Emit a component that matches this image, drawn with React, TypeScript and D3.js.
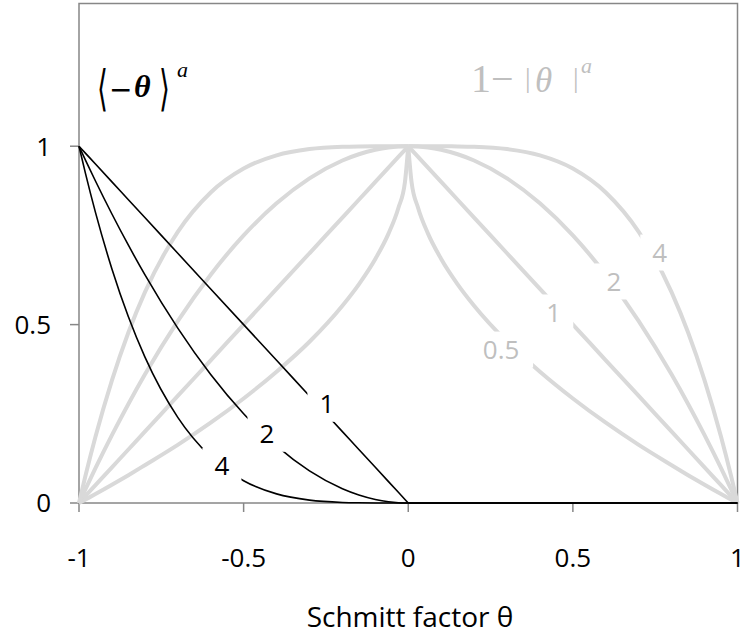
import React from "react";
import * as d3 from "d3";

// |theta| grid used for both halves of the curves
const absTheta = [0, 0.01, 0.03, 0.06, 0.1, 0.15, 0.2, 0.3, 0.4, 0.5, 0.6, 0.7, 0.8, 0.85, 0.9, 0.95, 0.98, 1];

// 1 - |theta|^a  (light grey family)
const grayExponents = ["0.5", "1", "2", "4"];
const grayA05 = [1, 0.9, 0.827, 0.755, 0.684, 0.613, 0.553, 0.452, 0.368, 0.293, 0.225, 0.163, 0.106, 0.078, 0.051, 0.025, 0.01, 0];
const grayA1 = [1, 0.99, 0.97, 0.94, 0.9, 0.85, 0.8, 0.7, 0.6, 0.5, 0.4, 0.3, 0.2, 0.15, 0.1, 0.05, 0.02, 0];
const grayA2 = [1, 0.9999, 0.9991, 0.9964, 0.99, 0.9775, 0.96, 0.91, 0.84, 0.75, 0.64, 0.51, 0.36, 0.2775, 0.19, 0.0975, 0.0396, 0];
const grayA4 = [1, 1, 1, 1, 0.9999, 0.9995, 0.9984, 0.9919, 0.9744, 0.9375, 0.8704, 0.7599, 0.5904, 0.478, 0.3439, 0.1855, 0.0776, 0];

// <-theta>^a  (black family), on theta = -|theta|, zero for theta > 0
const blackExponents = ["1", "2", "4"];
const blackA1 = [0, 0.01, 0.03, 0.06, 0.1, 0.15, 0.2, 0.3, 0.4, 0.5, 0.6, 0.7, 0.8, 0.85, 0.9, 0.95, 0.98, 1];
const blackA2 = [0, 0.0001, 0.0009, 0.0036, 0.01, 0.0225, 0.04, 0.09, 0.16, 0.25, 0.36, 0.49, 0.64, 0.7225, 0.81, 0.9025, 0.9604, 1];
const blackA4 = [0, 0, 0, 0, 0.0001, 0.0005, 0.0016, 0.0081, 0.0256, 0.0625, 0.1296, 0.2401, 0.4096, 0.522, 0.6561, 0.8145, 0.9224, 1];
const flatTheta = [0, 1];
const flatValue = [0, 0];

// curve labels (data coordinates)
const grayLabelTheta = [0.282, 0.442, 0.625, 0.764];
const grayLabelValue = [0.43, 0.534, 0.621, 0.702];
const blackLabelTheta = [-0.247, -0.429, -0.566];
const blackLabelValue = [0.278, 0.194, 0.104];

const xTicks = [-1, -0.5, 0, 0.5, 1];
const yTicks = [0, 0.5, 1];
const xTitle = "Schmitt factor θ";

const W = 747;
const H = 637;
const GRAY = "#d9d9d9";
const GRAY_TEXT = "#bfbfbf";
const AXIS = "#878787";
const FONT = "'Open Sans', 'Noto Sans', sans-serif";
const SERIF = "'Liberation Serif', 'DejaVu Serif', serif";
const BRACKET = "'DejaVu Sans', sans-serif";

export default function App() {
  const x = d3.scaleLinear().domain([-1, 1]).range([79, 737.5]);
  const y = d3.scaleLinear().domain([0, 1.4]).range([503, 3.5]);

  const line = d3
    .line<[number, number]>()
    .x((d) => x(d[0]))
    .y((d) => y(d[1]))
    .curve(d3.curveMonotoneX);

  const grayValues = [grayA05, grayA1, grayA2, grayA4];
  const blackValues = [blackA1, blackA2, blackA4];

  // each grey curve: left half (theta = -|theta|) and right half
  const grayPaths: string[] = [];
  grayValues.forEach((vals) => {
    const left = absTheta.map((t, i) => [-t, vals[i]] as [number, number]).reverse();
    const right = absTheta.map((t, i) => [t, vals[i]] as [number, number]);
    grayPaths.push(line(left) as string, line(right) as string);
  });

  const blackPaths: string[] = [];
  blackValues.forEach((vals) => {
    const left = absTheta.map((t, i) => [-t, vals[i]] as [number, number]).reverse();
    blackPaths.push(line(left) as string);
    blackPaths.push(line(flatTheta.map((t, i) => [t, flatValue[i]] as [number, number])) as string);
  });

  const labelBox = (text: string) => {
    const tw = text.length === 1 ? 15 : 40;
    return { w: tw + 24, h: 36 };
  };

  return (
    <svg
      width={W}
      height={H}
      style={{ position: "absolute", left: 0, top: 0, background: "#fff" }}
    >
      <rect x={0} y={0} width={W} height={H} fill="#fff" />

      {/* plot frame */}
      <rect
        x={x(-1)}
        y={y(1.4)}
        width={x(1) - x(-1)}
        height={y(0) - y(1.4)}
        fill="none"
        stroke={AXIS}
        strokeWidth={1.5}
      />

      {/* ticks */}
      {yTicks.map((t) => (
        <g key={"y" + t}>
          <line x1={x(-1) - 9} x2={x(-1)} y1={y(t)} y2={y(t)} stroke={AXIS} strokeWidth={1.5} />
          <text
            x={51}
            y={y(t)}
            dy="0.36em"
            textAnchor="end"
            fontFamily={FONT}
            fontSize={26}
            fill="#000"
          >
            {String(t)}
          </text>
        </g>
      ))}
      {xTicks.map((t) => (
        <g key={"x" + t}>
          <line x1={x(t)} x2={x(t)} y1={y(0)} y2={y(0) + 9} stroke={AXIS} strokeWidth={1.5} />
          <text
            x={x(t)}
            y={567}
            textAnchor="middle"
            fontFamily={FONT}
            fontSize={26}
            fill="#000"
          >
            {String(t)}
          </text>
        </g>
      ))}
      <text x={410} y={627} textAnchor="middle" fontFamily={FONT} fontSize={28} fill="#000">
        {xTitle}
      </text>

      {/* curves */}
      {grayPaths.map((d, i) => (
        <path key={"g" + i} d={d} fill="none" stroke={GRAY} strokeWidth={4} />
      ))}
      {blackPaths.map((d, i) => (
        <path key={"b" + i} d={d} fill="none" stroke="#000" strokeWidth={1.6} />
      ))}

      {/* curve labels with white backing */}
      {grayExponents.map((lab, i) => {
        const b = labelBox(lab);
        const cx = x(grayLabelTheta[i]);
        const cy = y(grayLabelValue[i]);
        return (
          <g key={"gl" + lab}>
            <rect x={cx - b.w / 2} y={cy - b.h / 2} width={b.w} height={b.h} fill="#fff" />
            <text x={cx} y={cy} dy="0.36em" textAnchor="middle" fontFamily={FONT} fontSize={26} fill={GRAY_TEXT}>
              {lab}
            </text>
          </g>
        );
      })}
      {blackExponents.map((lab, i) => {
        const b = labelBox(lab);
        const cx = x(blackLabelTheta[i]);
        const cy = y(blackLabelValue[i]);
        return (
          <g key={"bl" + lab}>
            <rect x={cx - b.w / 2} y={cy - b.h / 2} width={b.w} height={b.h} fill="#fff" />
            <text x={cx} y={cy} dy="0.36em" textAnchor="middle" fontFamily={FONT} fontSize={26} fill="#000">
              {lab}
            </text>
          </g>
        );
      })}

      {/* formula: <-theta>^a */}
      <text transform="translate(97,87) scale(1,1.75)" dy="0.36em" fontFamily={BRACKET} fontSize={28} fill="#000">
        ⟨
      </text>
      <text x={109} y={99} fontFamily={BRACKET} fontSize={28} fill="#000">
        −
      </text>
      <text x={134} y={97} fontFamily={SERIF} fontSize={32} fontStyle="italic" fontWeight="bold" fill="#000">
        θ
      </text>
      <text transform="translate(159,87) scale(1,1.75)" dy="0.36em" fontFamily={BRACKET} fontSize={28} fill="#000">
        ⟩
      </text>
      <text x={177} y={77} fontFamily={SERIF} fontSize={22} fontStyle="italic" fill="#000">
        a
      </text>

      {/* formula: 1-|theta|^a */}
      <text x={471} y={92} fontFamily={SERIF} fontSize={40} fill={GRAY_TEXT}>
        1−
      </text>
      <text fontFamily={SERIF} fill={GRAY_TEXT}>
        <tspan x={525} y={87} fontSize={28}>|</tspan>
        <tspan x={535} y={92} fontSize={35} fontStyle="italic">θ</tspan>
        <tspan x={573} y={87} fontSize={28}>|</tspan>
        <tspan x={581} y={73} fontSize={22} fontStyle="italic">a</tspan>
      </text>
    </svg>
  );
}
